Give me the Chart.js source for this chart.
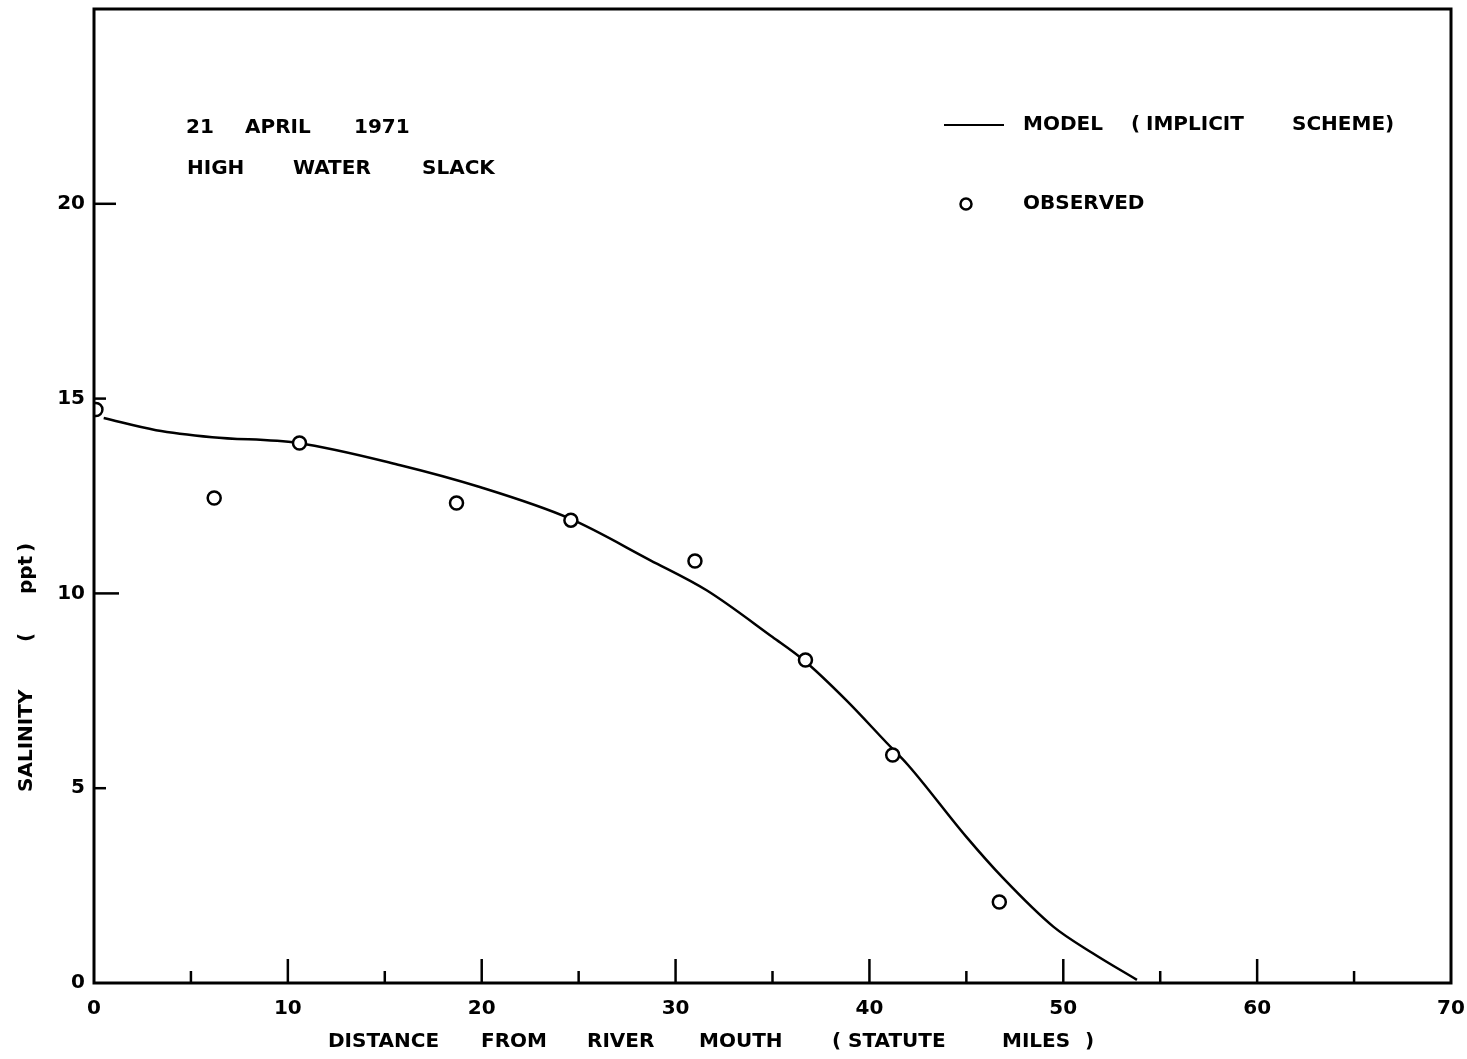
<!DOCTYPE html>
<html>
<head>
<meta charset="utf-8">
<script src="https://cdn.jsdelivr.net/npm/chart.js@4.4.1/dist/chart.umd.min.js"></script>
<style>
  html, body { margin: 0; padding: 0; background: #fff; }
  #wrap { width: 1467px; height: 1059px; }
</style>
</head>
<body>
<div id="wrap"><canvas id="c" width="1467" height="1059"></canvas></div>
<script>
// ---- data ----
const modelX = [0.5, 3.2, 6.1, 10.5, 15.8, 19.9, 24.5, 28.7, 31.6, 35.0, 36.6, 38.8, 40.9, 42.0, 45.0, 46.9, 49.5, 51.5, 53.8];
const modelY = [14.5, 14.19, 14.01, 13.86, 13.29, 12.73, 11.93, 10.85, 10.08, 8.88, 8.29, 7.26, 6.16, 5.59, 3.75, 2.69, 1.44, 0.77, 0.08];
const obsX = [0.1, 6.2, 10.6, 18.7, 24.6, 31.0, 36.7, 41.2, 46.7];
const obsY = [14.72, 12.45, 13.86, 12.32, 11.88, 10.83, 8.29, 5.85, 2.08];
const xTickLabels = [0, 10, 20, 30, 40, 50, 60, 70];
const xMinorTicks = [5, 15, 25, 35, 45, 55, 65];
const yTickLabels = [0, 5, 10, 15, 20];
const yTickMarks = [{v: 5, len: 12}, {v: 10, len: 25}, {v: 15, len: 12}, {v: 20, len: 22}];

const FONT = '"DejaVu Sans", "Liberation Sans", sans-serif';

const modelData = modelX.map((x, i) => ({x: x, y: modelY[i]}));
const obsData = obsX.map((x, i) => ({x: x, y: obsY[i]}));

function drawWords(ctx, words, y) {
  words.forEach(w => ctx.fillText(w[0], w[1], y));
}

const decor = {
  id: 'decor',
  afterDraw(chart) {
    const ctx = chart.ctx;
    const a = chart.chartArea;
    const xs = chart.scales.x, ys = chart.scales.y;
    ctx.save();
    ctx.strokeStyle = '#000';
    ctx.lineCap = 'square';
    // frame
    ctx.lineWidth = 3;
    ctx.strokeRect(a.left, a.top, a.right - a.left, a.bottom - a.top);
    // x ticks (inward)
    ctx.lineWidth = 2.5;
    ctx.lineCap = 'butt';
    xTickLabels.forEach(v => {
      if (v === 0 || v === 70) return;
      const p = xs.getPixelForValue(v);
      ctx.beginPath(); ctx.moveTo(p, a.bottom); ctx.lineTo(p, a.bottom - 24); ctx.stroke();
    });
    xMinorTicks.forEach(v => {
      const p = xs.getPixelForValue(v);
      ctx.beginPath(); ctx.moveTo(p, a.bottom); ctx.lineTo(p, a.bottom - 12); ctx.stroke();
    });
    yTickMarks.forEach(t => {
      const p = ys.getPixelForValue(t.v);
      ctx.beginPath(); ctx.moveTo(a.left, p); ctx.lineTo(a.left + t.len, p); ctx.stroke();
    });

    // texts
    ctx.fillStyle = '#000';
    ctx.font = 'bold 20px ' + FONT;
    ctx.textBaseline = 'middle';
    ctx.textAlign = 'left';
    drawWords(ctx, [['21', 186], ['APRIL', 245], ['1971', 354]], 128);
    drawWords(ctx, [['HIGH', 187], ['WATER', 293], ['SLACK', 422]], 169);

    // legend
    ctx.lineWidth = 2;
    ctx.beginPath(); ctx.moveTo(944, 125); ctx.lineTo(1004, 125); ctx.stroke();
    drawWords(ctx, [['MODEL', 1023], ['(', 1131], ['IMPLICIT', 1146], ['SCHEME)', 1292]], 125);
    ctx.lineWidth = 2.5;
    ctx.beginPath(); ctx.arc(966, 204, 5.5, 0, Math.PI * 2); ctx.stroke();
    drawWords(ctx, [['OBSERVED', 1023]], 204);

    // x axis title
    drawWords(ctx, [['DISTANCE', 328], ['FROM', 481], ['RIVER', 587], ['MOUTH', 699], ['(', 832], ['STATUTE', 848], ['MILES', 1002], [')', 1085]], 1042);

    // y axis title (rotated)
    ctx.save();
    ctx.translate(27, 0);
    ctx.rotate(-Math.PI / 2);
    drawWords(ctx, [['SALINITY', -792], ['(', -642], ['ppt', -594], [')', -552]], 0);
    ctx.restore();

    ctx.restore();
  }
};

new Chart(document.getElementById('c'), {
  type: 'scatter',
  data: {
    datasets: [
      {
        label: 'MODEL (IMPLICIT SCHEME)',
        data: modelData,
        showLine: true,
        borderColor: '#000',
        borderWidth: 2.5,
        pointRadius: 0,
        fill: false,
        cubicInterpolationMode: 'monotone',
        order: 2
      },
      {
        label: 'OBSERVED',
        data: obsData,
        showLine: false,
        pointStyle: 'circle',
        pointRadius: 6.5,
        pointBorderWidth: 2.5,
        pointBorderColor: '#000',
        pointBackgroundColor: '#fff',
        order: 1
      }
    ]
  },
  options: {
    responsive: false,
    animation: false,
    devicePixelRatio: 1,
    layout: { padding: { top: 9, right: 16, left: 0, bottom: 0 } },
    plugins: { legend: { display: false }, tooltip: { enabled: false }, title: { display: false } },
    scales: {
      x: {
        type: 'linear',
        min: 0, max: 70,
        grid: { display: false, drawTicks: false },
        border: { display: false },
        ticks: {
          stepSize: 10,
          padding: 14,
          color: '#000',
          font: { family: FONT, size: 20, weight: 'bold' },
          maxRotation: 0
        },
        afterFit(scale) {
          scale.height = 76;
          scale.paddingLeft = 0; scale.paddingRight = 0;
        }
      },
      y: {
        type: 'linear',
        min: 0, max: 25,
        grid: { display: false, drawTicks: false },
        border: { display: false },
        afterBuildTicks(scale) { scale.ticks = yTickLabels.map(v => ({value: v})); },
        ticks: {
          padding: 9,
          color: '#000',
          font: { family: FONT, size: 20, weight: 'bold' }
        },
        afterFit(scale) {
          scale.width = 94;
          scale.paddingTop = 0; scale.paddingBottom = 0;
        }
      }
    }
  },
  plugins: [decor]
});
</script>
</body>
</html>
